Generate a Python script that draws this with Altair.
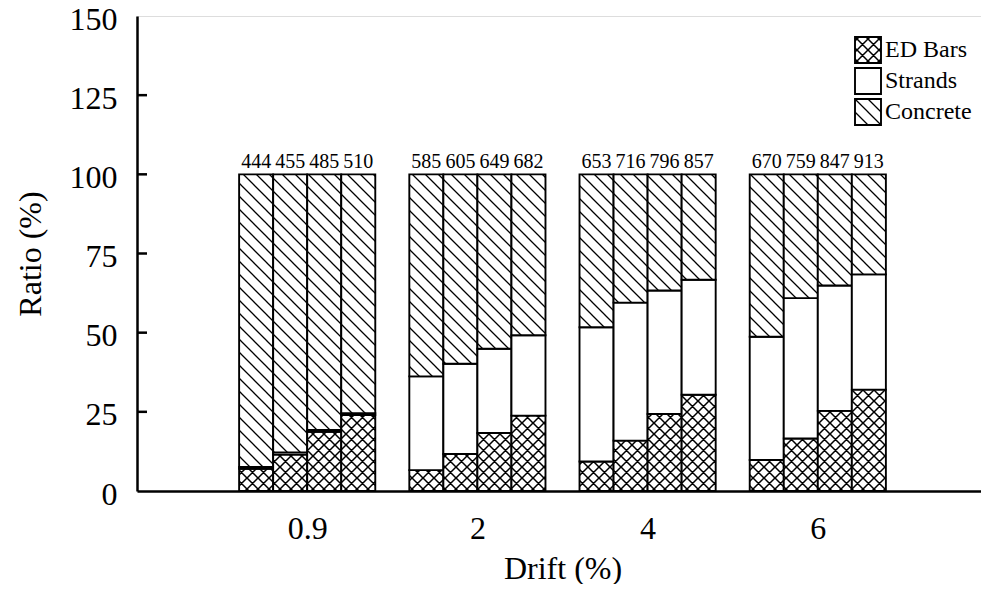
import altair as alt
import pandas as pd
import jinja2

# ---------------- data ----------------
DRIFT = ["0.9", "2", "4", "6"]
COMPONENTS = ["ED Bars", "Strands", "Concrete"]

ED_BARS = [
    [7.0, 11.5, 18.7, 24.0],
    [6.6, 11.7, 18.3, 23.8],
    [9.3, 15.9, 24.3, 30.4],
    [9.8, 16.6, 25.3, 32.0],
]
STRANDS = [
    [0.6, 0.7, 0.6, 0.6],
    [29.6, 28.5, 26.6, 25.4],
    [42.4, 43.6, 39.0, 36.3],
    [38.9, 44.3, 39.6, 36.4],
]
CONCRETE = [
    [92.4, 87.8, 80.7, 75.4],
    [63.8, 59.8, 55.1, 50.8],
    [48.3, 40.5, 36.7, 33.3],
    [51.3, 39.1, 35.1, 31.6],
]
TOTALS = [
    [444, 455, 485, 510],
    [585, 605, 649, 682],
    [653, 716, 796, 857],
    [670, 759, 847, 913],
]
Y_TICKS = [0, 25, 50, 75, 100, 125, 150]

# ---------------- tables ----------------
BAR_W = 0.2
rows, labels = [], []
for g, drift in enumerate(DRIFT):
    for b in range(4):
        x0 = (g + 1) + (b - 2) * BAR_W
        x1 = x0 + BAR_W
        base = 0.0
        for comp, arr in zip(COMPONENTS, [ED_BARS, STRANDS, CONCRETE]):
            v = arr[g][b]
            rows.append({"drift": drift, "bar": b, "component": comp,
                         "x0": x0, "x1": x1, "y0": base, "y1": base + v})
            base += v
        labels.append({"xc": (x0 + x1) / 2, "top": base, "total": TOTALS[g][b]})

df = pd.DataFrame(rows)
lab = pd.DataFrame(labels)
ticks = pd.DataFrame({"t": [t for t in Y_TICKS if 0 < t < 150]})

FONT = "Liberation Serif"
label_expr = "[" + ",".join("'" + d + "'" for d in DRIFT) + "][datum.value - 1]"

xscale = alt.Scale(domain=[0, 5], nice=False, zero=False)
yscale = alt.Scale(domain=[0, 150], nice=False)

bars = alt.Chart(df).mark_rect(stroke="black", strokeWidth=1.9).encode(
    x=alt.X("x0:Q", scale=xscale,
            axis=alt.Axis(values=[1, 2, 3, 4], labelExpr=label_expr, tickSize=0,
                          labelPadding=22, labelFontSize=32, labelFont=FONT,
                          labelColor="black", labelFlush=False,
                          domainColor="black", domainWidth=2.5, grid=False,
                          title="Drift (%)", titleFontSize=32, titleFont=FONT,
                          titleFontWeight="normal", titleColor="black",
                          titlePadding=9)),
    x2="x1:Q",
    y=alt.Y("y0:Q", scale=yscale,
            axis=alt.Axis(values=Y_TICKS, tickSize=0, labelPadding=20,
                          labelOffset=3,
                          labelFontSize=32, labelFont=FONT, labelColor="black",
                          labelFlush=False, domainColor="black", domainWidth=2.5,
                          grid=False, title="Ratio (%)", titleFontSize=32,
                          titleFont=FONT, titleFontWeight="normal",
                          titleColor="black", titlePadding=22)),
    y2="y1:Q",
    fill=alt.Fill("component:N",
                  scale=alt.Scale(domain=COMPONENTS,
                                  range=["url(#pED)", "#ffffff", "url(#pCon)"]),
                  legend=alt.Legend(title=None, orient="none", legendX=717,
                                    legendY=20, symbolType="square",
                                    symbolSize=676, symbolStrokeColor="black",
                                    symbolStrokeWidth=1.9, labelFontSize=24,
                                    labelFont=FONT, labelColor="black",
                                    labelOffset=3, rowPadding=-5, padding=0)),
)

texts = alt.Chart(lab).mark_text(baseline="alphabetic", dy=-6, fontSize=20,
                                 font=FONT, color="black").encode(
    x=alt.X("xc:Q", scale=xscale),
    y=alt.Y("top:Q", scale=yscale),
    text="total:Q",
)

tick_rules = alt.Chart(ticks).mark_rule(color="black", strokeWidth=2.5).encode(
    y=alt.Y("t:Q", scale=yscale),
    x=alt.value(0),
    x2=alt.value(10),
)

chart = alt.layer(bars, texts, tick_rules).properties(
    width=851, height=475,
    autosize=alt.AutoSizeParams(type="none"),
    padding={"left": 129, "top": 8, "right": 1, "bottom": 93},
).configure_view(stroke="black", strokeWidth=1.2).configure(font=FONT)

DEFS = """
<svg width="0" height="0" style="position:absolute;left:0;top:0">
 <defs>
  <pattern id="pED" patternUnits="userSpaceOnUse" width="11" height="11">
   <rect width="11" height="11" fill="white"/>
   <path d="M-2,-2L13,13M-2,9L2,13M9,-2L13,2M-2,13L13,-2M-2,2L2,-2M9,13L13,9"
         stroke="black" stroke-width="1.5" fill="none"/>
  </pattern>
  <pattern id="pCon" patternUnits="userSpaceOnUse" width="13" height="13">
   <rect width="13" height="13" fill="white"/>
   <path d="M-2,-2L15,15M-2,11L2,15M11,-2L15,2"
         stroke="black" stroke-width="1.3" fill="none"/>
  </pattern>
 </defs>
</svg>
"""

TEMPLATE = jinja2.Template("""<!DOCTYPE html>
<html>
<head>
<meta charset="utf-8">
<script type="text/javascript" src="{{ base_url }}/vega@{{ vega_version }}"></script>
<script type="text/javascript" src="{{ base_url }}/vega-lite@{{ vegalite_version }}"></script>
<script type="text/javascript" src="{{ base_url }}/vega-embed@{{ vegaembed_version }}"></script>
</head>
<body>
""" + DEFS + """
<div id="{{ output_div }}"></div>
<script>
  vegaEmbed("#{{ output_div }}", {{ spec }}, {{ embed_options }}).catch(console.error);
</script>
</body>
</html>
""")

chart.save("out.html", embed_options={"renderer": "svg", "actions": False}, template=TEMPLATE)
